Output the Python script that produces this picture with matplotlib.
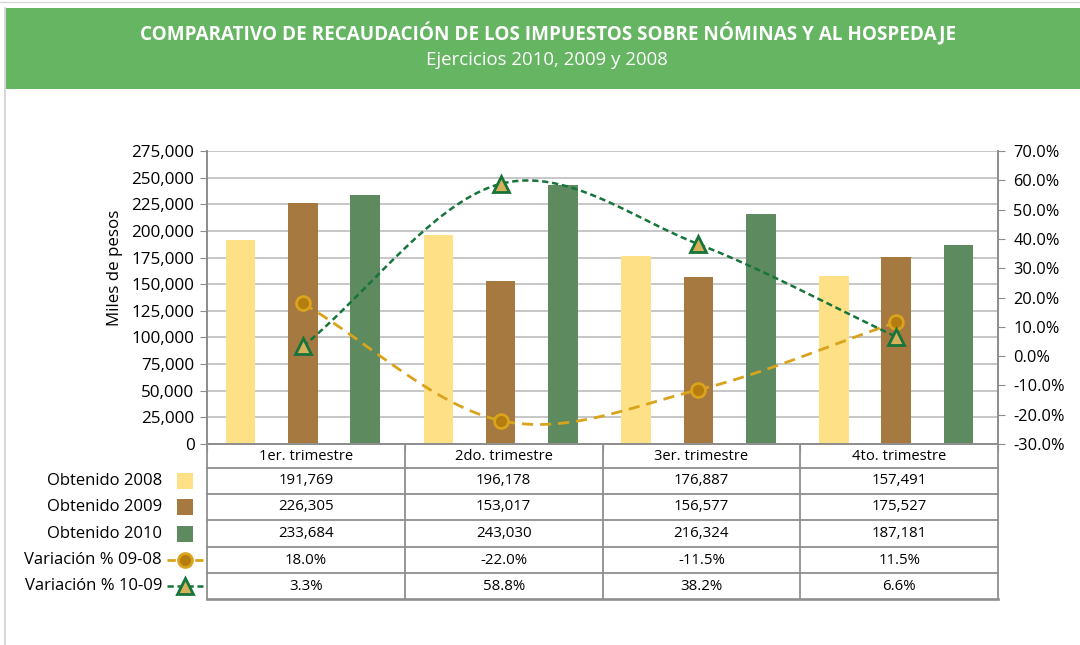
import numpy as np
import matplotlib
matplotlib.use("Agg")
import matplotlib.pyplot as plt
from matplotlib.patches import Rectangle
from matplotlib.lines import Line2D

plt.rcParams['font.family'] = ['Open Sans', 'DejaVu Sans']

# ---------------- data ----------------
categories = ["1er. trimestre", "2do. trimestre", "3er. trimestre", "4to. trimestre"]
obt_2008 = [191769, 196178, 176887, 157491]
obt_2009 = [226305, 153017, 156577, 175527]
obt_2010 = [233684, 243030, 216324, 187181]
var_09_08 = [18.0, -22.0, -11.5, 11.5]
var_10_09 = [3.3, 58.8, 38.2, 6.6]
series_labels = ["Obtenido 2008", "Obtenido 2009", "Obtenido 2010",
                 "Variación % 09-08", "Variación % 10-09"]
title = "COMPARATIVO DE RECAUDACIÓN DE LOS IMPUESTOS SOBRE NÓMINAS Y AL HOSPEDAJE"
subtitle = "Ejercicios 2010, 2009 y 2008"
ylabel = "Miles de pesos"

C08 = "#fee086"
C09 = "#a67941"
C10 = "#5d8b5f"
CL1 = "#d9a31c"
CL1_face = "#b57d10"
CL2 = "#17743a"
CL2_face = "#d6b15a"
GRID = "#bdbdbd"
AX = "#8c8c8c"

W, H = 1080, 645
fig = plt.figure(figsize=(W / 100, H / 100), dpi=100)

def fx(x):
    return x / W

def fy(y):
    return 1 - y / H

# header
fig.add_artist(Line2D([fx(5), fx(5)], [fy(8), fy(645)], color="#cfcfcf", lw=1.2))
fig.add_artist(Line2D([fx(0), fx(1080)], [fy(2), fy(2)], color="#d8d8d8", lw=1.0))
fig.add_artist(Rectangle((fx(6), fy(89)), 1 - fx(6), fy(8) - fy(89),
                         transform=fig.transFigure, color="#66b563", lw=0))
fig.text(fx(548), fy(34), title, color="white", fontsize=13.6, fontweight="bold",
         ha="center", va="center")
fig.text(fx(547), fy(60), subtitle, color="white", fontsize=13.4,
         ha="center", va="center")

# ---------------- main axes ----------------
L, R, T, B = 207, 998, 151, 444
ax = fig.add_axes([fx(L), fy(B), fx(R) - fx(L), fy(T) - fy(B)])
x = np.arange(len(categories))
bw = 0.15
off = 0.315
ax.bar(x - off - 0.015, obt_2008, bw, color=C08, zorder=2)
ax.bar(x - 0.015, obt_2009, bw, color=C09, zorder=2)
ax.bar(x + off - 0.015, obt_2010, bw, color=C10, zorder=2)
ax.set_xlim(-0.5, len(categories) - 0.5)
ax.set_ylim(0, 275000)
ax.set_yticks(np.arange(0, 275001, 25000))
ax.yaxis.set_major_formatter(matplotlib.ticker.FuncFormatter(lambda v, p: f"{int(v):,}"))
ax.grid(axis="y", color=GRID, lw=1.2, zorder=0)
ax.set_axisbelow(True)
ax.set_xticks(np.arange(-0.5, len(categories), 1))
ax.set_xticklabels([])
ax.tick_params(axis="x", length=6, color=AX, direction="out")
ax.tick_params(axis="y", length=5, color=AX, labelsize=12.3, pad=4)
ax.spines["top"].set_visible(False)
for s in ["left", "right", "bottom"]:
    ax.spines[s].set_color(AX)
    ax.spines[s].set_linewidth(1.2)
ax.set_ylabel(ylabel, fontsize=12.2)
ax.yaxis.set_label_coords(-0.106, 0.6)

# secondary axis
ax2 = ax.twinx()
ax2.set_ylim(-30, 70)
ax2.set_yticks(np.arange(-30, 71, 10))
ax2.yaxis.set_major_formatter(matplotlib.ticker.FuncFormatter(lambda v, p: f"{v:.1f}%"))
ax2.tick_params(axis="y", length=5, color=AX, labelsize=11.8, pad=6)
ax2.spines["top"].set_visible(False)
for s in ["left", "right", "bottom"]:
    ax2.spines[s].set_color(AX)
    ax2.spines[s].set_linewidth(1.2)


def smooth(xs, ys, n=40):
    xs = np.asarray(xs, float)
    ys = np.asarray(ys, float)
    P = np.column_stack([xs, ys])
    P = np.vstack([P[0] - (P[1] - P[0]), P, P[-1] + (P[-1] - P[-2])])
    out = []
    for i in range(1, len(P) - 2):
        p0, p1, p2, p3 = P[i - 1], P[i], P[i + 1], P[i + 2]
        t = np.linspace(0, 1, n)[:, None]
        seg = 0.5 * ((2 * p1) + (-p0 + p2) * t + (2 * p0 - 5 * p1 + 4 * p2 - p3) * t ** 2
                     + (-p0 + 3 * p1 - 3 * p2 + p3) * t ** 3)
        out.append(seg)
    out = np.vstack(out)
    return out[:, 0], out[:, 1]

xm = x - 0.015
sx, sy = smooth(xm, var_09_08)
ax2.plot(sx, sy, color=CL1, lw=2.0, ls=(0, (4, 2.5)), zorder=3)
ax2.plot(xm, var_09_08, ls="none", marker="o", ms=10, mfc=CL1_face, mec=CL1, mew=2, zorder=4)
sx, sy = smooth(xm, var_10_09)
ax2.plot(sx, sy, color=CL2, lw=1.8, ls=(0, (2.5, 1.5)), zorder=3)
ax2.plot(xm, var_10_09, ls="none", marker="^", ms=11, mfc=CL2_face, mec=CL2, mew=2, zorder=4)

# ---------------- data table ----------------
rows_y = [444, 468, 494, 520, 547, 573, 599]
tab = fig.add_axes([fx(L), fy(rows_y[-1]), fx(R) - fx(L), fy(rows_y[0]) - fy(rows_y[-1])])
tab.set_xlim(-0.5, len(categories) - 0.5)
tab.set_ylim(rows_y[-1], rows_y[0])
tab.axis("off")
TL = "#8f8f8f"
for yy in rows_y:
    tab.plot([-0.5, len(categories) - 0.5], [yy, yy], color=TL,
             lw=1.9 if yy == rows_y[-1] else 1.3, clip_on=False)
for xx in np.arange(-0.5, len(categories), 1):
    tab.plot([xx, xx], [rows_y[0], rows_y[-1]], color=TL, lw=1.3, clip_on=False)

table_rows = [
    [f"{v:,}" for v in obt_2008],
    [f"{v:,}" for v in obt_2009],
    [f"{v:,}" for v in obt_2010],
    [f"{v:.1f}%" for v in var_09_08],
    [f"{v:.1f}%" for v in var_10_09],
]
for i, c in enumerate(categories):
    tab.text(i, (rows_y[0] + rows_y[1]) / 2, c, ha="center", va="center", fontsize=10.6)
for r, vals in enumerate(table_rows):
    yc = (rows_y[r + 1] + rows_y[r + 2]) / 2
    for i, v in enumerate(vals):
        tab.text(i, yc, v, ha="center", va="center", fontsize=10.8)
    # legend label
    fig.text(fx(162), fy(yc), series_labels[r], ha="right", va="center", fontsize=12)

# legend keys
for r, col in enumerate([C08, C09, C10]):
    yc = (rows_y[r + 1] + rows_y[r + 2]) / 2
    fig.add_artist(Rectangle((fx(177), fy(yc + 8)), fx(16), fy(0) - fy(16),
                             transform=fig.transFigure, color=col, lw=0))
yc = (rows_y[4] + rows_y[5]) / 2
fig.add_artist(Line2D([fx(167), fx(203)], [fy(yc), fy(yc)], color=CL1, lw=2.0,
                      ls=(0, (3, 2))))
fig.add_artist(Line2D([fx(185)], [fy(yc)], marker="o", ms=10, mfc=CL1_face, mec=CL1, mew=2))
yc = (rows_y[5] + rows_y[6]) / 2
fig.add_artist(Line2D([fx(167), fx(203)], [fy(yc), fy(yc)], color=CL2, lw=1.8,
                      ls=(0, (2.5, 1.5))))
fig.add_artist(Line2D([fx(185)], [fy(yc)], marker="^", ms=11, mfc=CL2_face, mec=CL2, mew=2))

fig.savefig("out.png", dpi=100)
